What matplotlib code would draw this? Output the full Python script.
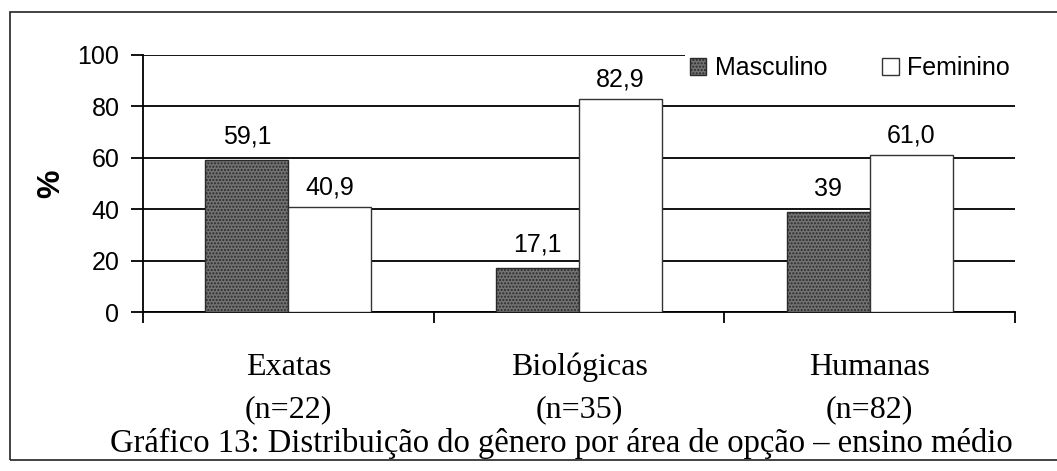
import numpy as np
import matplotlib.pyplot as plt
from matplotlib.patches import Rectangle

areas = ['Exatas', 'Biológicas', 'Humanas']
n_alunos = [22, 35, 82]
masculino = [59.1, 17.1, 39.0]
feminino = [40.9, 82.9, 61.0]
rot_masc = ['59,1', '17,1', '39']
rot_fem = ['40,9', '82,9', '61,0']

W, H = 1057, 471
fig = plt.figure(figsize=(W / 100, H / 100), dpi=100)

# moldura escaneada (lado direito fora da imagem)
fig.patches.append(Rectangle((10 / W, 1 - 460 / H), 1.2, (460 - 12) / H,
                             transform=fig.transFigure, fill=False,
                             ec='#222222', lw=1.2))

ax = fig.add_axes([143 / W, 1 - 312 / H, (1015 - 143) / W, (312 - 55) / H])
x = np.arange(len(areas))
w = 0.285

ax.set_axisbelow(True)
ax.yaxis.grid(True, color='black', lw=1.3)
ax.bar(x - w / 2, masculino, w, color='#727272', edgecolor='#2a2a2a',
       hatch='.....', lw=1, label='Masculino', zorder=3)
ax.bar(x + w / 2, feminino, w, color='white', edgecolor='#333333',
       lw=1, label='Feminino', zorder=3)

sans = 'Liberation Sans'
serif = 'Liberation Serif'
box = dict(fc='white', ec='none', pad=2)
for i in range(len(areas)):
    ax.text(x[i] - w / 2, masculino[i] + 9, rot_masc[i], ha='center',
            va='center', fontsize=18, family=sans, bbox=box, zorder=4)
    ax.text(x[i] + w / 2, feminino[i] + 7.5, rot_fem[i], ha='center',
            va='center', fontsize=18, family=sans, bbox=box, zorder=4)

ax.set_xlim(-0.5, 2.5)
ax.set_ylim(0, 100)
ax.set_yticks(range(0, 101, 20))
ax.set_xticks(np.arange(-0.5, 2.6, 1))
ax.set_xticklabels([])
ax.tick_params(axis='y', length=9, width=1.3, labelsize=18, pad=8)
ax.tick_params(axis='x', length=8, width=1.3)
for lab in ax.get_yticklabels():
    lab.set_family(sans)
for s in ['top', 'right']:
    ax.spines[s].set_visible(False)
ax.spines['left'].set_linewidth(1.3)
ax.spines['bottom'].set_linewidth(1.3)
ax.set_ylabel('%', fontsize=23, family=sans, fontweight='bold', labelpad=8)

for i in range(len(areas)):
    ax.text(x[i], -0.215, areas[i], transform=ax.get_xaxis_transform(),
            ha='center', va='center', fontsize=23, family=serif)
    ax.text(x[i], -0.38, f'(n={n_alunos[i]})', transform=ax.get_xaxis_transform(),
            ha='center', va='center', fontsize=23, family=serif)

leg = ax.legend(loc='upper right', bbox_to_anchor=(1.0, 1.015), ncol=2,
                frameon=True, fancybox=False, edgecolor='none', framealpha=1,
                handlelength=0.65, handleheight=0.65, handletextpad=0.35,
                columnspacing=2.2, borderaxespad=0, borderpad=0.2,
                prop={'family': sans, 'size': 18})

fig.text(561 / W, 1 - 443 / H,
         'Gráfico 13: Distribuição do gênero por área de opção – ensino médio',
         ha='center', va='center', fontsize=23.5, family=serif)

fig.savefig('out.png', dpi=100)
